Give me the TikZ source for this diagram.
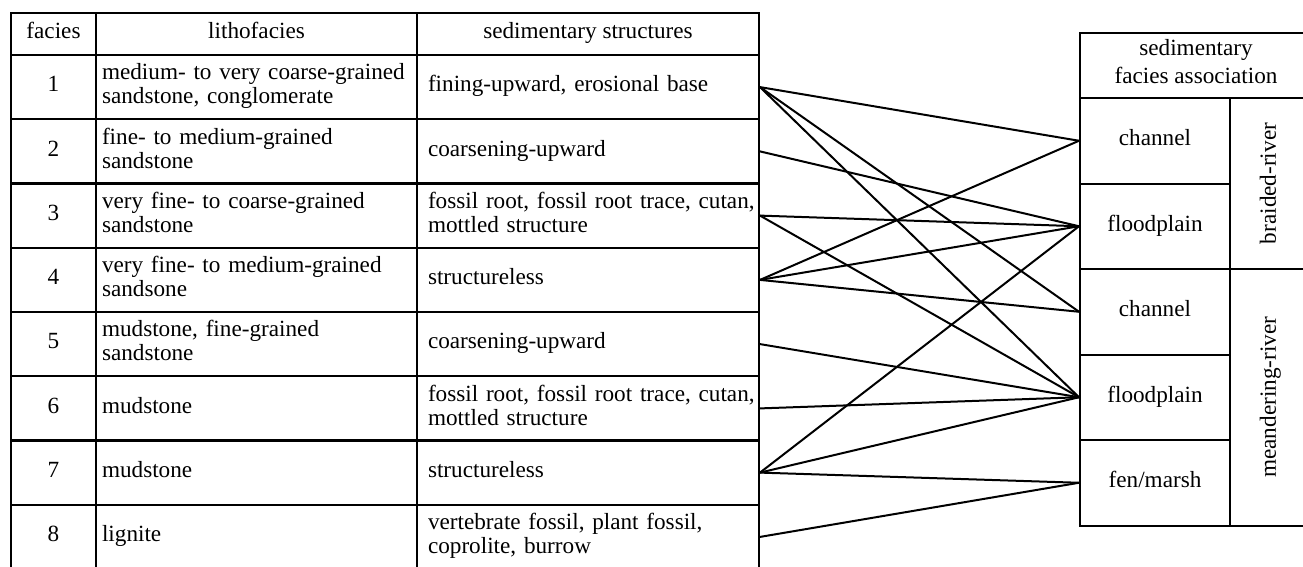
\documentclass[tikz,border=0pt]{standalone}
\usepackage{fontspec}
\setmainfont{Liberation Serif}
\begin{document}
\begin{tikzpicture}[x=1pt, y=-1pt, line width=2pt,
        cell/.style={draw, inner sep=0pt, font=\fontsize{23.2}{24}\selectfont,
            execute at begin node=\strut, execute at end node=\strut},
        numcell/.style={cell, minimum width=85pt, minimum height=64.25pt},
        lithcell/.style={cell, text width=309pt, inner xsep=6pt, minimum height=64.25pt, align=left},
        structcell/.style={cell, text width=320pt, inner xsep=11pt, minimum height=64.25pt, align=left},
        headcell/.style={cell, minimum height=42pt},
        assoccell/.style={cell, minimum width=150pt, minimum height=85.5pt},
        rivercell/.style={cell, rotate=90, minimum height=82pt},
        link/.style={draw, line width=2pt}]
        \useasboundingbox (0,0) rectangle (1303,566);
        \clip (0,0) rectangle (1303,566);

        % Left table: header
        \node [headcell, minimum width=85pt] (hfac) at (53.5, 34) {facies};
        \node [headcell, minimum width=321pt] (hlith) at (256.5, 34) {lithofacies};
        \node [headcell, minimum width=342pt] (hstruct) at (588, 34) {sedimentary structures};

        % Left table: facies 1 to 8
        \node [numcell] (f1) at (53.5, 87.1) {1};
        \node [lithcell] (l1) at (256.5, 87.1) {medium- to very coarse-grained\\sandstone, conglomerate};
        \node [structcell] (s1) at (588, 87.1) {fining-upward, erosional base};

        \node [numcell] (f2) at (53.5, 151.4) {2};
        \node [lithcell] (l2) at (256.5, 151.4) {fine- to medium-grained\\sandstone};
        \node [structcell] (s2) at (588, 151.4) {coarsening-upward};

        \node [numcell] (f3) at (53.5, 215.6) {3};
        \node [lithcell] (l3) at (256.5, 215.6) {very fine- to coarse-grained\\sandstone};
        \node [structcell] (s3) at (588, 215.6) {\mbox{fossil root, fossil root trace, cutan,}\\mottled structure};

        \node [numcell] (f4) at (53.5, 279.9) {4};
        \node [lithcell] (l4) at (256.5, 279.9) {very fine- to medium-grained\\sandsone};
        \node [structcell] (s4) at (588, 279.9) {structureless};

        \node [numcell] (f5) at (53.5, 344.1) {5};
        \node [lithcell] (l5) at (256.5, 344.1) {mudstone, fine-grained\\sandstone};
        \node [structcell] (s5) at (588, 344.1) {coarsening-upward};

        \node [numcell] (f6) at (53.5, 408.4) {6};
        \node [lithcell] (l6) at (256.5, 408.4) {mudstone};
        \node [structcell] (s6) at (588, 408.4) {\mbox{fossil root, fossil root trace, cutan,}\\mottled structure};

        \node [numcell] (f7) at (53.5, 472.6) {7};
        \node [lithcell] (l7) at (256.5, 472.6) {mudstone};
        \node [structcell] (s7) at (588, 472.6) {structureless};

        \node [numcell] (f8) at (53.5, 536.9) {8};
        \node [lithcell] (l8) at (256.5, 536.9) {lignite};
        \node [structcell] (s8) at (588, 536.9) {vertebrate fossil, plant fossil,\\coprolite, burrow};

        % Right table: facies association
        \node [cell, minimum width=232pt, minimum height=65pt, align=center] (assoc) at (1196, 65.5) {sedimentary\\[4pt]facies association};
        \node [assoccell] (bch) at (1155, 140.75) {channel};
        \node [assoccell] (bfp) at (1155, 226.25) {floodplain};
        \node [assoccell] (mch) at (1155, 311.75) {channel};
        \node [assoccell] (mfp) at (1155, 397.25) {floodplain};
        \node [assoccell] (mfm) at (1155, 482.75) {fen/marsh};
        \node [rivercell, minimum width=171pt] (braided) at (1271, 183.5) {braided-river};
        \node [rivercell, minimum width=257pt] (meander) at (1271, 397.25) {meandering-river\hspace{14pt}};

        % Links between structures and associations
        \draw [link] (s1.east) -- (bch.west);
        \draw [link] (s1.east) -- (mch.west);
        \draw [link] (s1.east) -- (mfp.west);
        \draw [link] (s2.east) -- (bfp.west);
        \draw [link] (s3.east) -- (bfp.west);
        \draw [link] (s3.east) -- (mfp.west);
        \draw [link] (s4.east) -- (bch.west);
        \draw [link] (s4.east) -- (bfp.west);
        \draw [link] (s4.east) -- (mch.west);
        \draw [link] (s5.east) -- (mfp.west);
        \draw [link] (s6.east) -- (mfp.west);
        \draw [link] (s7.east) -- (bfp.west);
        \draw [link] (s7.east) -- (mfp.west);
        \draw [link] (s7.east) -- (mfm.west);
        \draw [link] (s8.east) -- (mfm.west);
    \end{tikzpicture}
\end{document}
